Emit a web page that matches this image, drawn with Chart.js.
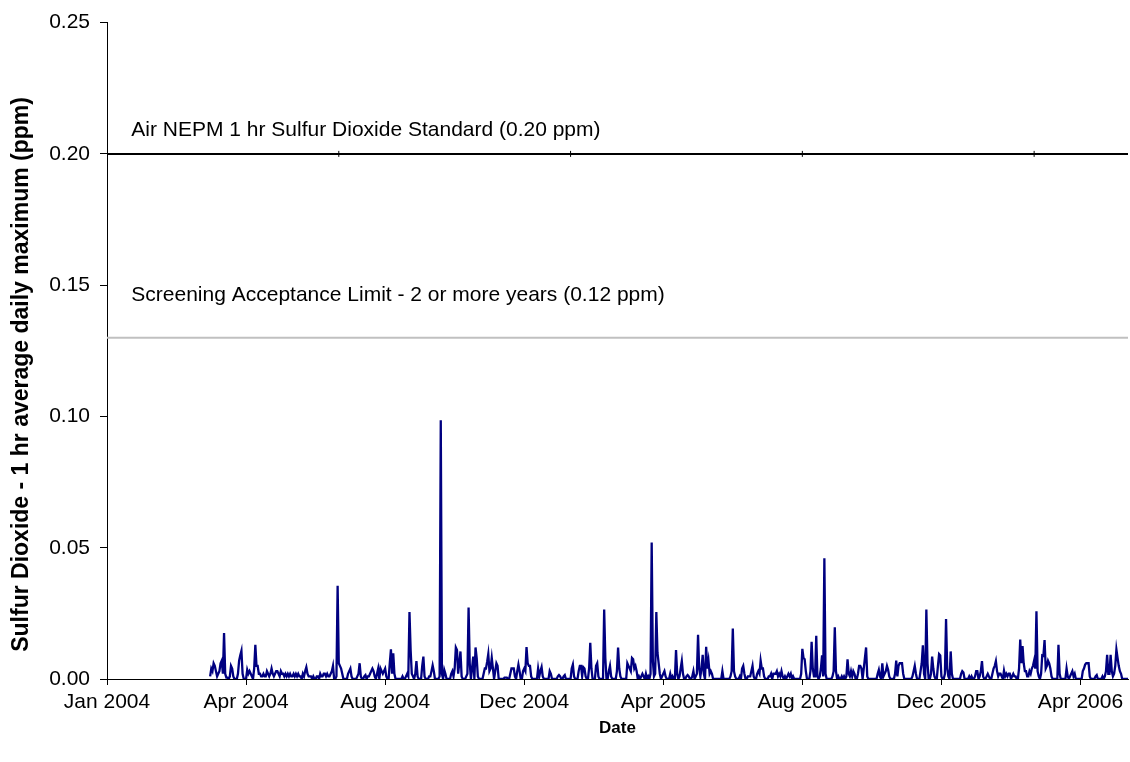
<!DOCTYPE html>
<html>
<head>
<meta charset="utf-8">
<script src="https://cdn.jsdelivr.net/npm/chart.js@4.4.1/dist/chart.umd.min.js"></script>
<style>
html, body { margin: 0; padding: 0; background: #ffffff; }
#wrap { width: 1130px; height: 762px; }
</style>
</head>
<body>
<div id="wrap"><canvas id="c" width="1130" height="762"></canvas></div>
<script>
// x values are day numbers counted from 1 Jan 2004 (day 0)
const seriesStartDay = 89; // 30 Mar 2004, first daily value

// Daily 1-hr maximum SO2 (ppm), consecutive days
const so2Part1 = [ // 30 Mar 2004 - 27 Jul 2004
  .001,.004,.003,.006,.005,.003,.001,.002,.003,.006,
  .007,.002,.0175,.002,.0005,.0005,0,.001,.005,.004,
  .001,0,0,0,.002,.007,.009,.0107,.002,0,
  0,0,.0035,.002,.003,.002,.001,0,.004,.013,
  .005,.005,.002,.002,.001,.001,.002,.001,.001,.003,
  .002,.001,.002,.004,.002,.001,.002,.003,.003,.002,
  .001,.003,.002,.002,.001,.002,.001,.002,.001,.002,
  .001,.001,.002,.001,.002,.001,.002,.001,.001,0,
  .002,.001,.003,.0045,.002,.001,.001,.001,0,.001,
  0,0,.001,.001,0,.002,.001,.001,.002,.002,
  .001,.002,.001,.001,.002,.003,.005,0,0,.001,
  .0355,.006,.005,.004,.002,0,0,0,0,.002
];
const so2Part2 = [ // 28 Jul 2004 - 8 Dec 2004
  .003,.004,.001,0,0,0,0,.001,.002,.006,
  .001,0,0,.001,.0015,0,.001,.001,.002,.003,
  .004,.003,.001,0,.002,.004,0,.004,.003,.002,
  .003,.004,.001,0,0,.006,.0113,.002,.0098,.002,
  0,0,0,0,0,0,.001,0,0,.001,
  .002,.001,.0255,.011,.002,.001,0,.002,.0068,.001,
  0,0,0,.005,.0085,.001,0,0,0,.001,
  .001,.003,.0052,.003,0,0,0,0,.001,.0985,
  .002,0,.0035,.002,0,0,0,0,.002,.003,
  .001,.004,.012,.011,.002,.006,.0105,.001,0,0,
  0,.001,.002,.0272,.006,0,.004,.0085,0,.012,
  .008,.001,0,0,0,0,.002,.004,.004,.0065,
  .0095,.003,.004,.008,.004,0,.003,.006,.005,0,
  0,0,0,0
];
const so2Part3 = [ // 9 Dec 2004 - 19 Apr 2005
  .0005,.0005,.0005,0,0,.002,.004,.004,.004,.001,
  0,.003,.0055,.003,0,0,.003,.004,.003,.0122,
  .006,.005,.005,.001,0,0,0,0,0,.004,
  .001,.003,.0045,.001,0,0,0,0,0,.003,
  .002,0,0,0,0,0,.001,.0015,.001,0,
  0,.001,.0015,0,0,0,0,0,.004,.0055,
  .001,0,0,0,.003,.005,.005,.001,.0045,.004,
  .001,0,0,.004,.0138,.004,0,0,0,.005,
  .006,.001,0,0,0,0,.0265,.008,0,0,
  .003,.005,.001,0,0,0,0,.003,.012,.004,
  .001,0,0,0,0,0,.006,.005,.004,.003,
  .008,.0075,.004,.005,.003,0,.001,0,.001,.002,
  .001,0,.002,0,.001,0,.002,.052,.007,.001,
  .002,.0255
];
const so2Part4 = [ // 20 Apr 2005 - 3 Sep 2005
  .010,.006,.002,0,.001,.002,.003,.001,0,0,
  0,.002,0,.001,0,0,.011,.002,0,.001,
  .004,.0068,.002,0,0,.001,.0015,.001,0,0,
  .001,.003,0,.001,.002,.0168,.004,.001,.004,.0092,
  .002,0,.0123,.004,.007,.002,.003,.002,0,0,
  0,0,0,0,0,0,.003,0,0,0,
  0,0,0,.001,.003,.0192,.003,.001,0,0,
  0,.001,0,.004,.005,.002,0,0,.001,.001,
  .001,.003,.005,.001,0,0,.002,.003,.002,.007,
  .004,.004,.001,0,0,0,.001,.001,.002,0,
  .002,.002,.002,.003,.001,.002,.001,.003,.001,0,
  .001,0,.001,.002,.001,.002,0,.001,0,0,
  0,0,0,0,.002,.0115,.008,.0075,.003,0,
  0,0,.003,.0142,.004,.001
];
const so2Part5 = [ // 4 Sep 2005 - 14 Jan 2006
  .001,.0165,.001,0,.001,.004,.009,.001,.046,.002,
  0,0,0,0,0,.001,.003,.0197,.003,0,
  .001,0,0,.001,0,.001,0,.001,.0075,.002,
  .001,.003,.001,.003,.002,0,0,.002,.005,.005,
  .004,0,.004,.008,.012,.001,0,0,0,0,
  0,0,0,0,.002,.0035,.001,0,.006,.001,
  .002,.003,.005,.0035,.001,0,0,0,0,.002,
  .007,.001,.005,.006,.006,.006,.002,0,0,0,
  0,0,0,0,.001,.003,.005,.002,0,0,
  0,.003,.006,.0128,.002,0,.0265,.006,0,0,
  .002,.0085,.004,.001,0,0,.005,.0095,.009,.001,
  0,0,.002,.0228,.004,.001,0,.0105,.002,0,
  0,0,0,0,0,0,.002,.003,.0025,0,
  0,0,0
];
const so2Part6 = [ // 15 Jan 2006 - 31 May 2006
  .001,0,.001,0,0,.001,.003,.003,0,.001,
  .003,.0068,.001,0,0,.001,.002,.001,0,0,
  .002,.004,.005,.0068,.003,.001,.002,.002,.001,0,
  .0032,.001,.002,.001,.002,.002,0,.001,.002,.001,
  .001,0,0,.004,.015,.006,.0125,.006,.003,.003,
  .001,.001,.003,.002,.004,.005,.007,.004,.0258,.003,
  .001,0,.002,.009,.0088,.0148,.004,.005,.007,.006,
  .004,.001,0,0,0,0,0,.013,.002,0,
  0,0,0,0,.004,.001,0,.001,.002,.003,
  .001,.002,0,0,0,0,0,0,.003,.004,
  .0055,.006,.006,.006,.001,0,0,0,0,.001,
  .0015,0,0,0,0,.001,0,.001,.003,.0092,
  .002,.002,.0092,.003,.001,.002,.005,.0112,.008,.005,
  .003,.002,0,0,0,0,0,0
];

const tickDays   = [0, 120, 240, 360, 480, 600, 720, 840];
const tickLabels = ['Jan 2004','Apr 2004','Aug 2004','Dec 2004','Apr 2005','Aug 2005','Dec 2005','Apr 2006'];
const yTickValues = [0, 0.05, 0.10, 0.15, 0.20, 0.25];
const axisEndDay = 881;

const nepmStandard = 0.20;
const nepmPointDays = [0, 200, 400, 600, 800, 881];
const screeningLimit = 0.13;          // position of the grey line as drawn
const screeningDays = [0, 881];

const xTitle = 'Date';
const yTitle = 'Sulfur Dioxide - 1 hr average daily maximum (ppm)';
const annotationLabels = [
  'Air NEPM 1 hr Sulfur Dioxide Standard (0.20 ppm)',
  'Screening Acceptance Limit - 2 or more years (0.12 ppm)'
];
const annotationAnchors = [ // [day, value] of each label's left-middle
  [21, 0.209],
  [21, 0.146]
];

const so2Values = so2Part1.concat(so2Part2, so2Part3, so2Part4, so2Part5, so2Part6);
const so2Points = so2Values.map((v, i) => ({ x: seriesStartDay + i, y: v }));
const nepmPoints = nepmPointDays.map(d => ({ x: d, y: nepmStandard }));
const screeningPoints = screeningDays.map(d => ({ x: d, y: screeningLimit }));

const FONT = "'Liberation Sans', Arial, Helvetica, sans-serif";
Chart.defaults.font.family = FONT;
Chart.defaults.color = '#000000';

const annotationText = {
  id: 'annotationText',
  afterDatasetsDraw(chart) {
    const { ctx, scales } = chart;
    ctx.save();
    ctx.font = '21px ' + FONT;
    ctx.fillStyle = '#000000';
    ctx.textAlign = 'left';
    ctx.textBaseline = 'middle';
    annotationLabels.forEach((t, i) => {
      const [d, v] = annotationAnchors[i];
      ctx.fillText(t, scales.x.getPixelForValue(d), scales.y.getPixelForValue(v));
    });
    ctx.restore();
  }
};

const yAxisTitle = {
  id: 'yAxisTitle',
  afterDraw(chart) {
    const { ctx, scales } = chart;
    ctx.save();
    ctx.font = 'bold 23px ' + FONT;
    ctx.fillStyle = '#000000';
    ctx.textAlign = 'center';
    ctx.textBaseline = 'middle';
    ctx.translate(22, scales.y.getPixelForValue(0.116));
    ctx.rotate(-Math.PI / 2);
    ctx.fillText(yTitle, 0, 0);
    ctx.restore();
  }
};

new Chart(document.getElementById('c'), {
  type: 'line',
  data: {
    datasets: [
      {
        label: 'Sulfur Dioxide',
        data: so2Points,
        borderColor: '#000080',
        borderWidth: 2.3,
        pointRadius: 0,
        tension: 0,
        fill: false
      },
      {
        label: 'Air NEPM standard',
        data: nepmPoints,
        borderColor: '#000000',
        borderWidth: 2,
        pointStyle: 'line',
        rotation: 90,
        pointRadius: nepmPointDays.map((d, i) => (i === 0 || i === nepmPointDays.length - 1) ? 0 : 3),
        pointBorderColor: '#000000',
        pointBorderWidth: 1,
        tension: 0,
        fill: false
      },
      {
        label: 'Screening limit',
        data: screeningPoints,
        borderColor: '#c0c0c0',
        borderWidth: 2,
        pointRadius: 0,
        tension: 0,
        fill: false
      }
    ]
  },
  options: {
    responsive: false,
    animation: false,
    events: [],
    layout: { padding: { left: 0, right: 2, top: 18, bottom: 0 } },
    plugins: { legend: { display: false }, tooltip: { enabled: false } },
    scales: {
      x: {
        type: 'linear',
        min: 0,
        max: axisEndDay,
        afterBuildTicks(scale) { scale.ticks = tickDays.map(v => ({ value: v })); },
        afterFit(scale) { scale.height = 83; },
        ticks: {
          autoSkip: false,
          maxRotation: 0,
          padding: 5,
          color: '#000000',
          font: { size: 21 },
          callback: (value) => tickLabels[tickDays.indexOf(value)]
        },
        grid: {
          drawOnChartArea: false,
          drawTicks: true,
          tickLength: 6,
          tickColor: '#000000',
          tickWidth: 1
        },
        border: { display: true, color: '#000000', width: 1 },
        title: {
          display: true,
          text: xTitle,
          color: '#000000',
          font: { size: 17, weight: 'bold' },
          padding: { top: 0, bottom: 23 }
        }
      },
      y: {
        type: 'linear',
        min: 0,
        max: 0.25,
        afterBuildTicks(scale) { scale.ticks = yTickValues.map(v => ({ value: v })); },
        afterFit(scale) { scale.width = 107; },
        ticks: {
          padding: 10,
          color: '#000000',
          font: { size: 21 },
          callback: (value) => Number(value).toFixed(2)
        },
        grid: {
          drawOnChartArea: false,
          drawTicks: true,
          tickLength: 7,
          tickColor: '#000000',
          tickWidth: 1
        },
        border: { display: true, color: '#000000', width: 1 },
        title: { display: false }
      }
    }
  },
  plugins: [annotationText, yAxisTitle]
});
</script>
</body>
</html>
